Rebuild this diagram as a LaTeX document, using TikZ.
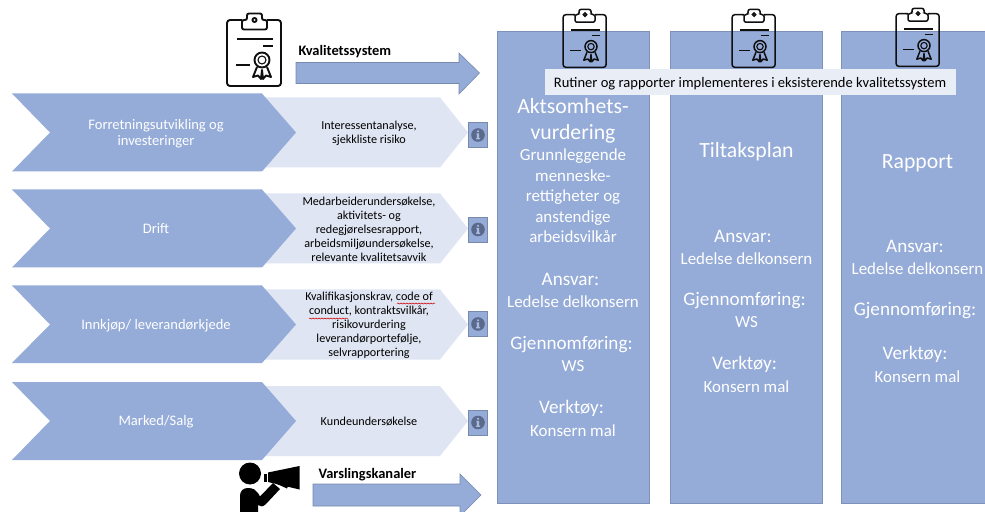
\documentclass[tikz,border=0pt]{standalone}
\usepackage{fontspec}
\setmainfont{Carlito}
\usetikzlibrary{decorations.pathmorphing}
\definecolor{bluefill}{HTML}{95ABD8}
\definecolor{bluepale}{HTML}{DFE5F2}
\definecolor{banner}{HTML}{E9EDF5}
\definecolor{iconink}{HTML}{0F0F0F}
\definecolor{infodark}{HTML}{5A6A8C}
\definecolor{infolight}{HTML}{A9BADD}
\tikzset{
  x=1bp,y=-1bp,
  bluebox/.style={fill=bluefill,draw=bluefill!85!black,line width=0.7bp},
  paleshape/.style={fill=bluepale,draw=none},
  mainshape/.style={fill=bluefill,draw=none},
  arrowshape/.style={fill=bluefill,draw=bluefill!80!black,line width=0.6bp},
  whitelabel/.style={text=white,align=center,font=\fontsize{14.6}{16.5}\selectfont},
  darklabel/.style={text=black,align=center,font=\fontsize{12.2}{14}\selectfont},
  headlabel/.style={text=black,font=\bfseries\fontsize{14.5}{16}\selectfont,anchor=west},
  coltext/.style={text=white,align=center,font=\fontsize{17}{20.5}\selectfont},
  colhead/.style={text=white,align=center,font=\fontsize{21.8}{26}\selectfont},
  colsub/.style={text=white,align=center,font=\fontsize{19.2}{22}\selectfont},
  clipline/.style={line width=1.9bp},
  clipboard/.pic={
    \draw[iconink,clipline,rounded corners=3bp]
      (15,7) -- (0,7) -- (0,73) -- (54,73) -- (54,7) -- (40,7);
    \draw[iconink,clipline,rounded corners=2bp]
      (15,16.5) -- (15,7) -- (20,7) -- (20,0.5) -- (35,0.5) -- (35,7) -- (40,7) -- (40,16.5) -- cycle;
    \draw[iconink,clipline] (27.5,7) circle (2);
    \draw[iconink,clipline] (10,26) -- (46,26) (36,33) -- (46,33) (9,52) -- (23,52);
    \draw[iconink,clipline] (35,47) circle (7.5);
    \draw[iconink,line width=1.1bp] (35,47) circle (4);
    \draw[iconink,clipline,line join=round]
      (30,54) -- (26,64) -- (31,62.5) -- (34,66) -- (35,57) -- (36,66) -- (39,62.5) -- (44,64) -- (40,54);
  },
  infoicon/.pic={
    \path[fill=bluefill,draw=bluefill!80!black,line width=0.8bp] (-9.3,-12.5) rectangle (9.3,12.5);
    \fill[infodark] (0,0) circle (6.8);
    \fill[infolight] (0,-3.7) circle (1.2);
    \fill[infolight] (-1.7,-1.6) -- (1.1,-1.6) -- (1.1,3.1) -- (2,3.1) -- (2,4.4) -- (-2,4.4) -- (-2,3.1) -- (-1.1,3.1) -- (-1.1,-0.5) -- (-1.7,-0.5) -- cycle;
  },
}
\begin{document}
\begin{tikzpicture}
\useasboundingbox (0,0) rectangle (985,512);
\fill[white] (0,0) rectangle (985,512);

% pale chevrons
\path[paleshape] (262,97.5) -- (440,97.5) -- (468,132.5) -- (440,167.5) -- (262,167.5) -- (290,132.5) -- cycle;
\path[paleshape] (262,193.5) -- (440,193.5) -- (468,228.5) -- (440,263.5) -- (262,263.5) -- (290,228.5) -- cycle;
\path[paleshape] (262,289.5) -- (440,289.5) -- (468,324.5) -- (440,359.5) -- (262,359.5) -- (290,324.5) -- cycle;
\path[paleshape] (262,386) -- (440,386) -- (468,421) -- (440,456) -- (262,456) -- (290,421) -- cycle;

% main chevrons
\path[mainshape] (12,93.5) -- (262,93.5) -- (296,132.5) -- (262,171.5) -- (12,171.5) -- (50,132.5) -- cycle;
\path[mainshape] (12,189.5) -- (262,189.5) -- (296,228.5) -- (262,267.5) -- (12,267.5) -- (50,228.5) -- cycle;
\path[mainshape] (12,285.5) -- (262,285.5) -- (296,324.5) -- (262,363) -- (12,363) -- (50,324.5) -- cycle;
\path[mainshape] (12,382) -- (262,382) -- (296,421) -- (262,460) -- (12,460) -- (50,421) -- cycle;

\node[whitelabel] (forr) at (156,133.5) {Forretningsutvikling og\\investeringer};
\node[whitelabel] (drift) at (156,229) {Drift};
\node[whitelabel] (innk) at (156,325.5) {Innkjøp/ leverandørkjede};
\node[whitelabel] (mark) at (156,422) {Marked/Salg};

\node[darklabel] (inter) at (369,133) {Interessentanalyse,\\sjekkliste risiko};
\node[darklabel] (medar) at (369,229) {Medarbeiderundersøkelse,\\aktivitets- og\\redegjørelsesrapport,\\arbeidsmiljøundersøkelse,\\relevante kvalitetsavvik};
\node[darklabel] (kvali) at (369,325.5) {Kvalifikasjonskrav, code of\\conduct, kontraktsvilkår,\\risikovurdering\\leverandørportefølje,\\selvrapportering};
\node[darklabel] (kunde) at (369,421) {Kundeundersøkelse};

% spell-check squiggles
\draw[red!80!black,line width=0.5bp,decorate,decoration={snake,amplitude=0.5bp,segment length=3bp}] (397,303.5) -- (435,303.5);
\draw[red!80!black,line width=0.5bp,decorate,decoration={snake,amplitude=0.5bp,segment length=3bp}] (309,318.5) -- (348,318.5);

% info icons
\pic at (478,135) {infoicon};
\pic at (478,229.5) {infoicon};
\pic at (478,324) {infoicon};
\pic at (478,422.5) {infoicon};

% arrows
\path[arrowshape] (296,62.5) -- (459,62.5) -- (459,53) -- (479.5,73) -- (459,94) -- (459,83.5) -- (296,83.5) -- cycle;
\path[arrowshape] (313,484) -- (460,484) -- (460,474) -- (481,495) -- (460,516) -- (460,506) -- (313,506) -- cycle;
\node[headlabel] (kvs) at (295,52) {Kvalitetssystem};
\node[headlabel] (vars) at (315,474.5) {Varslingskanaler};

% columns
\path[bluebox] (497,31.5) rectangle (649,503);
\path[bluebox] (670.5,31.5) rectangle (822.5,503);
\path[bluebox] (841.5,31.5) rectangle (990,503);

% clipboards
\pic at (227,13) {clipboard};
\pic[scale=0.8,clipline/.style={line width=1.5bp}] at (563,9) {clipboard};
\pic[scale=0.8,clipline/.style={line width=1.5bp}] at (732,9) {clipboard};
\pic[scale=0.8,clipline/.style={line width=1.5bp}] at (896,8) {clipboard};

% banner
\fill[banner] (545,69) rectangle (956,95.5);
\node[text=black,font=\fontsize{14.6}{17}\selectfont] (rut) at (750,83.5) {Rutiner og rapporter implementeres i eksisterende kvalitetssystem};

% column 1
\node[colhead] (akt) at (573,120.5) {Aktsomhets-\\vurdering};
\node[coltext] (grunn) at (573,196) {Grunnleggende\\menneske-\\rettigheter og\\anstendige\\arbeidsvilkår};
\node[colsub] (ans1) at (570.5,279.5) {Ansvar:};
\node[coltext] (led1) at (573,301.5) {Ledelse delkonsern};
\node[colsub] (gj1) at (571.5,344.5) {Gjennomføring:};
\node[coltext] (ws1) at (573,366) {WS};
\node[colsub] (ve1) at (571.5,408.5) {Verktøy:};
\node[coltext] (ko1) at (573,430.5) {Konsern mal};

% column 2
\node[colhead] (tilt) at (746.5,151.5) {Tiltaksplan};
\node[colsub] (ans2) at (743,236.5) {Ansvar:};
\node[coltext] (led2) at (746.5,258.5) {Ledelse delkonsern};
\node[colsub] (gj2) at (744.5,300.5) {Gjennomføring:};
\node[coltext] (ws2) at (746.5,322.5) {WS};
\node[colsub] (ve2) at (744.5,364.5) {Verktøy:};
\node[coltext] (ko2) at (746.5,386.5) {Konsern mal};

% column 3
\node[colhead] (rapp) at (917.5,163) {Rapport};
\node[colsub] (ans3) at (915,246.5) {Ansvar:};
\node[coltext] (led3) at (917.5,268.5) {Ledelse delkonsern};
\node[colsub] (gj3) at (915,310.5) {Gjennomføring:};
\node[colsub] (ve3) at (915,354.5) {Verktøy:};
\node[coltext] (ko3) at (917.5,376.5) {Konsern mal};

% person with megaphone
\fill[black] (250,473.5) circle (11);
\fill[black] (240,512) -- (240,496) .. controls (240,491) and (243,488) .. (248,488) .. controls (253,488) and (256,490) .. (258,493) -- (260,496.5) -- (273,483) -- (280,489) -- (266,504) .. controls (263,507) and (260,507) .. (258,505) -- (258,512) -- cycle;
\fill[black] (268,472.5) -- (299.5,466) -- (299.5,489.5) -- (268,482) -- cycle;
\fill[black] (263.5,473.5) rectangle (266.5,482);
\fill[black] (276,483.5) -- (278,482.5) -- (288,486) -- (287,488.5) -- cycle;
\end{tikzpicture}
\end{document}
